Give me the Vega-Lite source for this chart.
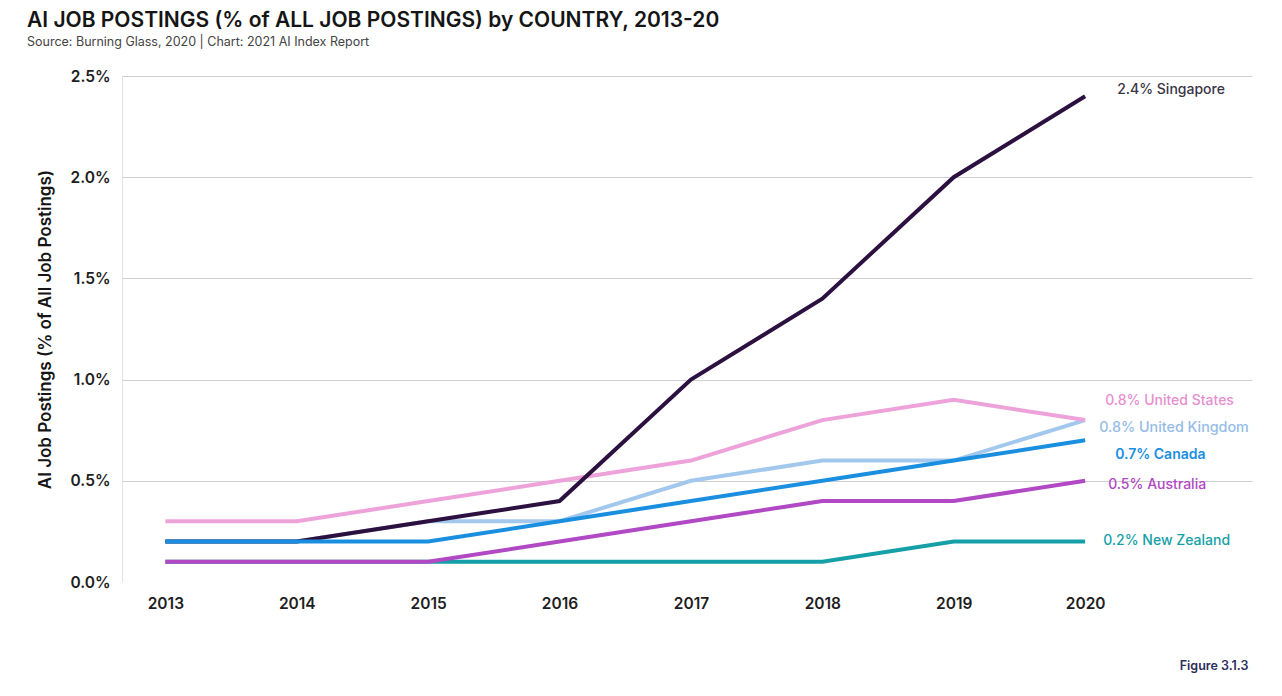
{
  "$schema": "https://vega.github.io/schema/vega-lite/v6.json",
  "width": 1130,
  "height": 506,
  "autosize": {"type": "none"},
  "padding": {"left": 122, "top": 76, "right": 30, "bottom": 114},
  "background": "white",
  "config": {"view": {"stroke": null}, "font": "Inter"},
  "title": {
    "text": "AI JOB POSTINGS (% of ALL JOB POSTINGS) by COUNTRY, 2013-20",
    "subtitle": "Source: Burning Glass, 2020 | Chart: 2021 AI Index Report",
    "anchor": "start",
    "frame": "group",
    "dx": -95,
    "offset": 21,
    "font": "Inter",
    "fontSize": 21,
    "fontWeight": 600,
    "color": "#151515",
    "subtitleFont": "Inter",
    "subtitleFontSize": 12.5,
    "subtitleColor": "#444444",
    "subtitlePadding": 5
  },
  "datasets": {
    "series": [
      {"country": "New Zealand", "year": 2013, "value": 0.1},
      {"country": "New Zealand", "year": 2014, "value": 0.1},
      {"country": "New Zealand", "year": 2015, "value": 0.1},
      {"country": "New Zealand", "year": 2016, "value": 0.1},
      {"country": "New Zealand", "year": 2017, "value": 0.1},
      {"country": "New Zealand", "year": 2018, "value": 0.1},
      {"country": "New Zealand", "year": 2019, "value": 0.2},
      {"country": "New Zealand", "year": 2020, "value": 0.2},
      {"country": "United Kingdom", "year": 2013, "value": 0.2},
      {"country": "United Kingdom", "year": 2014, "value": 0.2},
      {"country": "United Kingdom", "year": 2015, "value": 0.3},
      {"country": "United Kingdom", "year": 2016, "value": 0.3},
      {"country": "United Kingdom", "year": 2017, "value": 0.5},
      {"country": "United Kingdom", "year": 2018, "value": 0.6},
      {"country": "United Kingdom", "year": 2019, "value": 0.6},
      {"country": "United Kingdom", "year": 2020, "value": 0.8},
      {"country": "United States", "year": 2013, "value": 0.3},
      {"country": "United States", "year": 2014, "value": 0.3},
      {"country": "United States", "year": 2015, "value": 0.4},
      {"country": "United States", "year": 2016, "value": 0.5},
      {"country": "United States", "year": 2017, "value": 0.6},
      {"country": "United States", "year": 2018, "value": 0.8},
      {"country": "United States", "year": 2019, "value": 0.9},
      {"country": "United States", "year": 2020, "value": 0.8},
      {"country": "Singapore", "year": 2013, "value": 0.2},
      {"country": "Singapore", "year": 2014, "value": 0.2},
      {"country": "Singapore", "year": 2015, "value": 0.3},
      {"country": "Singapore", "year": 2016, "value": 0.4},
      {"country": "Singapore", "year": 2017, "value": 1.0},
      {"country": "Singapore", "year": 2018, "value": 1.4},
      {"country": "Singapore", "year": 2019, "value": 2.0},
      {"country": "Singapore", "year": 2020, "value": 2.4},
      {"country": "Australia", "year": 2013, "value": 0.1},
      {"country": "Australia", "year": 2014, "value": 0.1},
      {"country": "Australia", "year": 2015, "value": 0.1},
      {"country": "Australia", "year": 2016, "value": 0.2},
      {"country": "Australia", "year": 2017, "value": 0.3},
      {"country": "Australia", "year": 2018, "value": 0.4},
      {"country": "Australia", "year": 2019, "value": 0.4},
      {"country": "Australia", "year": 2020, "value": 0.5},
      {"country": "Canada", "year": 2013, "value": 0.2},
      {"country": "Canada", "year": 2014, "value": 0.2},
      {"country": "Canada", "year": 2015, "value": 0.2},
      {"country": "Canada", "year": 2016, "value": 0.3},
      {"country": "Canada", "year": 2017, "value": 0.4},
      {"country": "Canada", "year": 2018, "value": 0.5},
      {"country": "Canada", "year": 2019, "value": 0.6},
      {"country": "Canada", "year": 2020, "value": 0.7}
    ],
    "labels": [
      {"country": "Singapore", "year": 2020, "value": 2.4, "label": "2.4% Singapore"},
      {"country": "United States", "year": 2020, "value": 0.8, "label": "0.8% United States"},
      {"country": "United Kingdom", "year": 2020, "value": 0.8, "label": "0.8% United Kingdom"},
      {"country": "Canada", "year": 2020, "value": 0.7, "label": "0.7% Canada"},
      {"country": "Australia", "year": 2020, "value": 0.5, "label": "0.5% Australia"},
      {"country": "New Zealand", "year": 2020, "value": 0.2, "label": "0.2% New Zealand"}
    ]
  },
  "encoding": {
    "x": {
      "field": "year",
      "type": "quantitative",
      "scale": {"domain": [2012.67, 2021.27], "nice": false, "zero": false},
      "axis": {
        "values": [2013, 2014, 2015, 2016, 2017, 2018, 2019, 2020],
        "format": "d",
        "grid": false,
        "ticks": false,
        "domain": false,
        "labelFont": "Inter",
        "labelFontSize": 15.5,
        "labelFontWeight": 600,
        "labelColor": "#1e1e1e",
        "labelPadding": 14,
        "title": "Figure 3.1.3",
        "titleFont": "Inter",
        "titleFontSize": 12.5,
        "titleFontWeight": 600,
        "titleColor": "#2b2d5c",
        "titleAlign": "right",
        "titleAnchor": null,
        "titleX": 1126,
        "titleY": 83,
        "titleBaseline": "middle"
      }
    },
    "y": {
      "field": "value",
      "type": "quantitative",
      "scale": {"domain": [0, 2.5], "nice": false},
      "axis": {
        "values": [0, 0.5, 1, 1.5, 2, 2.5],
        "labelExpr": "format(datum.value, '.1f') + '%'",
        "ticks": false,
        "domain": true,
        "domainColor": "#e2e2e2",
        "domainWidth": 1,
        "gridColor": {"condition": {"test": "datum.value === 0", "value": "transparent"}, "value": "#cfcfcf"},
        "gridWidth": 1.2,
        "labelFont": "Inter",
        "labelFontSize": 15.5,
        "labelFontWeight": 600,
        "labelColor": "#1e1e1e",
        "labelPadding": 12,
        "title": "AI Job Postings (% of  All Job Postings)",
        "titleFont": "Inter",
        "titleFontSize": 17,
        "titleFontWeight": 600,
        "titleColor": "#151515",
        "titleX": -77,
        "titleBaseline": "middle"
      }
    }
  },
  "layer": [
    {
      "data": {"name": "series"},
      "mark": {"type": "line", "strokeWidth": 4, "strokeCap": "butt", "strokeJoin": "miter"},
      "encoding": {
        "color": {
          "field": "country",
          "type": "nominal",
          "scale": {
            "domain": ["Singapore", "United States", "United Kingdom", "Canada", "Australia", "New Zealand"],
            "range": ["#2c1140", "#eda3da", "#a3c8ee", "#1a8fdf", "#b148c4", "#15a0a8"]
          },
          "legend": null
        }
      }
    },
    {
      "data": {"values": [{}]},
      "mark": {"type": "rule", "color": "#9a9a9a", "strokeWidth": 1.5},
      "encoding": {
        "x": {"datum": 2012.67},
        "x2": {"datum": 2020.17},
        "y": {"datum": 0.02}
      }
    },
    {
      "data": {"name": "labels"},
      "transform": [{"filter": "datum.country === 'Singapore'"}],
      "mark": {"type": "text", "align": "left", "baseline": "middle", "dx": 32, "dy": -6, "fontSize": 14, "font": "Inter", "fontWeight": 500, "color": "#3a3545"},
      "encoding": {"text": {"field": "label"}}
    },
    {
      "data": {"name": "labels"},
      "transform": [{"filter": "datum.country === 'United States'"}],
      "mark": {"type": "text", "align": "left", "baseline": "middle", "dx": 20, "dy": -19, "fontSize": 14, "font": "Inter", "fontWeight": 500, "color": "#e58fd0"},
      "encoding": {"text": {"field": "label"}}
    },
    {
      "data": {"name": "labels"},
      "transform": [{"filter": "datum.country === 'United Kingdom'"}],
      "mark": {"type": "text", "align": "left", "baseline": "middle", "dx": 14, "dy": 8, "fontSize": 14.3, "font": "Inter", "fontWeight": 500, "color": "#95bce6"},
      "encoding": {"text": {"field": "label"}}
    },
    {
      "data": {"name": "labels"},
      "transform": [{"filter": "datum.country === 'Canada'"}],
      "mark": {"type": "text", "align": "left", "baseline": "middle", "dx": 30, "dy": 15, "fontSize": 14, "font": "Inter", "fontWeight": 600, "color": "#1a8fdf"},
      "encoding": {"text": {"field": "label"}}
    },
    {
      "data": {"name": "labels"},
      "transform": [{"filter": "datum.country === 'Australia'"}],
      "mark": {"type": "text", "align": "left", "baseline": "middle", "dx": 23, "dy": 4, "fontSize": 14, "font": "Inter", "fontWeight": 500, "color": "#b148c4"},
      "encoding": {"text": {"field": "label"}}
    },
    {
      "data": {"name": "labels"},
      "transform": [{"filter": "datum.country === 'New Zealand'"}],
      "mark": {"type": "text", "align": "left", "baseline": "middle", "dx": 18, "dy": -1, "fontSize": 14, "font": "Inter", "fontWeight": 500, "color": "#15a0a8"},
      "encoding": {"text": {"field": "label"}}
    }
  ]
}
